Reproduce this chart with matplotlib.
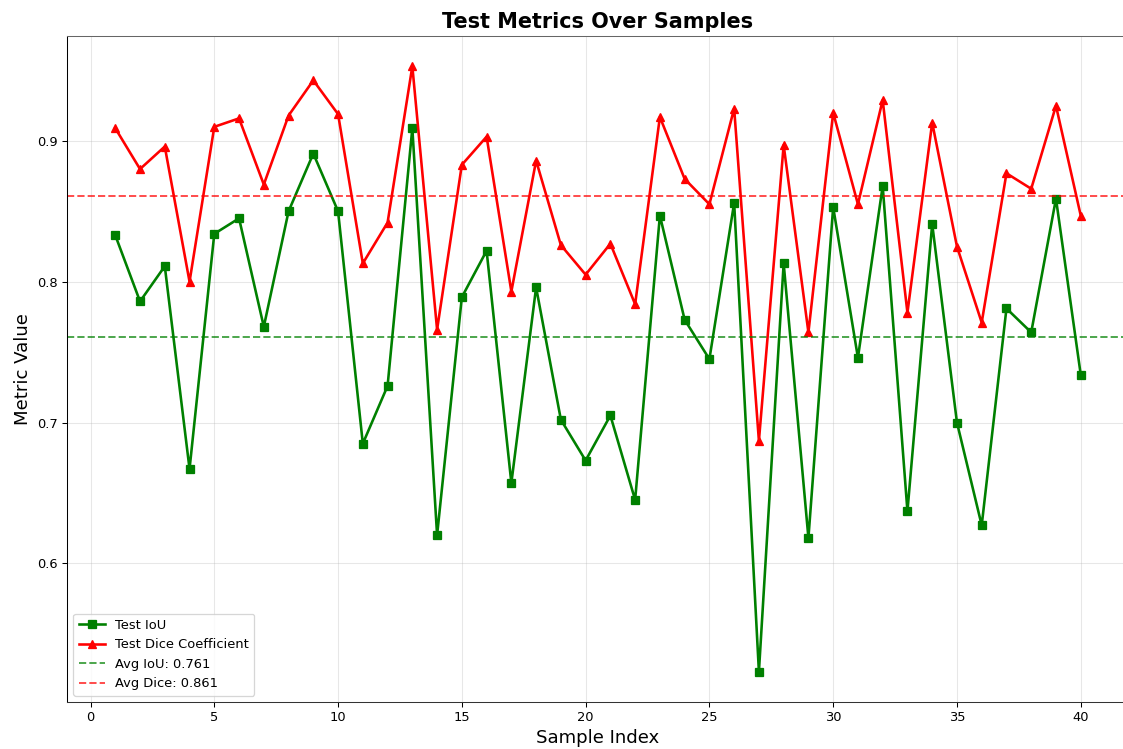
import matplotlib
matplotlib.use("Agg")
import matplotlib.pyplot as plt
import numpy as np

# per-sample test metrics
samples = np.arange(1, 41)
test_iou = [
    0.833, 0.786, 0.811, 0.667, 0.834, 0.845, 0.768, 0.850, 0.891, 0.850,
    0.685, 0.726, 0.909, 0.620, 0.789, 0.822, 0.657, 0.796, 0.702, 0.673,
    0.705, 0.645, 0.847, 0.773, 0.745, 0.856, 0.523, 0.813, 0.618, 0.853,
    0.746, 0.868, 0.637, 0.841, 0.700, 0.627, 0.781, 0.764, 0.859, 0.734,
]
test_dice = [
    0.909, 0.880, 0.896, 0.800, 0.910, 0.916, 0.869, 0.918, 0.943, 0.919,
    0.813, 0.842, 0.953, 0.766, 0.883, 0.903, 0.793, 0.886, 0.826, 0.805,
    0.827, 0.784, 0.917, 0.873, 0.855, 0.923, 0.687, 0.897, 0.764, 0.920,
    0.855, 0.929, 0.778, 0.913, 0.825, 0.771, 0.877, 0.866, 0.925, 0.847,
]
avg_iou = 0.761
avg_dice = 0.861

W, H = 1123, 749
dpi = W / 12
fig = plt.figure(figsize=(12, H / dpi), dpi=dpi)
ax = fig.add_axes([67 / W, 1 - 702 / H, (1129 - 67) / W, (702 - 36) / H])

ax.plot(samples, test_iou, color="green", marker="s", linewidth=2,
        markersize=6, label="Test IoU")
ax.plot(samples, test_dice, color="red", marker="^", linewidth=2,
        markersize=6, label="Test Dice Coefficient")
ax.axhline(avg_iou, color="green", linestyle="--", alpha=0.7, linewidth=1.5,
           label=f"Avg IoU: {avg_iou:.3f}")
ax.axhline(avg_dice, color="red", linestyle="--", alpha=0.7, linewidth=1.5,
           label=f"Avg Dice: {avg_dice:.3f}")

ax.set_title("Test Metrics Over Samples", fontsize=16, fontweight="bold")
ax.set_xlabel("Sample Index", fontsize=14)
ax.set_ylabel("Metric Value", fontsize=14)
ax.set_xticks([0, 5, 10, 15, 20, 25, 30, 35, 40])
ax.set_yticks([0.6, 0.7, 0.8, 0.9])
ax.grid(True, alpha=0.3)
ax.spines["top"].set_color("#666666")
ax.spines["bottom"].set_color("#333333")
ax.legend(loc="lower left")

fig.savefig("out.png", dpi=dpi)
